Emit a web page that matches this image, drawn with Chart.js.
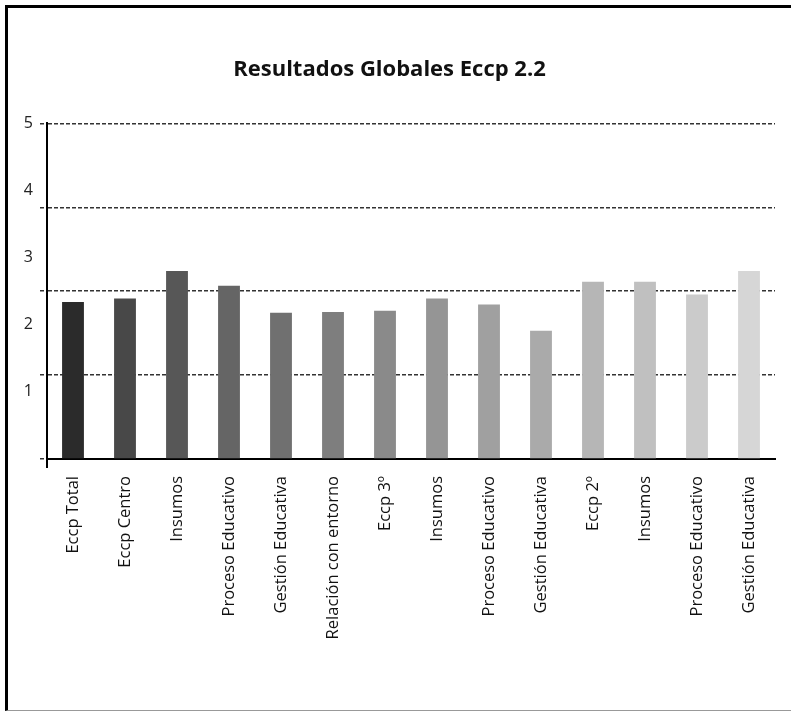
<!DOCTYPE html>
<html lang="es">
<head>
<meta charset="utf-8">
<title>Resultados Globales Eccp 2.2</title>
<script src="https://cdn.jsdelivr.net/npm/chart.js@4.4.1/dist/chart.umd.min.js"></script>
<style>
  html, body { margin: 0; padding: 0; background: #fff; }
  #lienzo { position: relative; width: 791px; height: 712px; overflow: hidden; }
  /* marco del informe: arriba e izquierda gruesos, abajo fino */
  #marco {
    position: absolute; left: 5px; top: 5px; width: 900px; height: 702px;
    border-top: 3px solid #000; border-left: 3px solid #000; border-bottom: 1px solid #999;
  }
  #grafico { position: absolute; left: 0; top: 0; }
</style>
</head>
<body>
<div id="lienzo">
  <div id="marco"></div>
  <canvas id="grafico" width="791" height="712"></canvas>
</div>
<script>
// categorías del eje X
const categorias = [
  'Eccp Total', 'Eccp Centro', 'Insumos', 'Proceso Educativo', 'Gestión Educativa',
  'Relación con entorno', 'Eccp 3º', 'Insumos', 'Proceso Educativo', 'Gestión Educativa',
  'Eccp 2º', 'Insumos', 'Proceso Educativo', 'Gestión Educativa'
];

// puntaje de cada categoría (escala 0-5)
const puntajes = [2.34, 2.39, 2.80, 2.58, 2.18, 2.19, 2.21, 2.39, 2.30, 1.91, 2.64, 2.64, 2.45, 2.80];

// números que se muestran en el eje Y
const marcasEje = [1, 2, 3, 4, 5];

// líneas punteadas horizontales
const lineasGuia = [0, 1.25, 2.5, 3.75, 5];

// tonos de gris, de oscuro a claro
const grises = [
  '#2b2b2b', '#484848', '#575757', '#656565', '#707070', '#7e7e7e', '#8a8a8a',
  '#959595', '#a0a0a0', '#aaaaaa', '#b6b6b6', '#c0c0c0', '#cbcbcb', '#d6d6d6'
];

const fuente = "'Open Sans', 'DejaVu Sans', sans-serif";

new Chart(document.getElementById('grafico'), {
  type: 'bar',
  data: {
    labels: categorias,
    datasets: [{
      data: puntajes,
      backgroundColor: grises,
      borderWidth: 0,
      barPercentage: 0.42,
      categoryPercentage: 1.0,
      xAxisID: 'x',
      yAxisID: 'y'
    }]
  },
  options: {
    responsive: false,
    animation: false,
    layout: { padding: { top: 57, left: 4, right: 16, bottom: 63 } },
    plugins: {
      legend: { display: false },
      tooltip: { enabled: false },
      title: {
        display: true,
        text: 'Resultados Globales Eccp 2.2',
        color: '#111',
        font: { family: fuente, size: 22, weight: 'bold' },
        padding: { top: 0, bottom: 40 }
      }
    },
    scales: {
      x: {
        afterFit: eje => { eje.height = 190; },
        grid: {
          display: true,
          drawOnChartArea: false,
          offset: true,
          // solo la primera marca: prolonga el eje Y bajo la base
          color: ctx => ctx.index === 0 ? '#000' : 'rgba(0,0,0,0)',
          lineWidth: 2,
          tickLength: 9
        },
        border: { display: true, color: '#000', width: 2 },
        ticks: {
          autoSkip: false,
          minRotation: 90,
          maxRotation: 90,
          padding: 8,
          color: '#111',
          font: { family: fuente, size: 16.5 }
        }
      },
      // eje con las etiquetas numéricas, sin líneas
      yMarcas: {
        type: 'linear',
        position: 'left',
        weight: 1,
        min: 0,
        max: 5,
        afterBuildTicks: eje => { eje.ticks = marcasEje.map(v => ({ value: v })); },
        afterFit: eje => { eje.width = 36; },
        grid: { display: false, drawTicks: false },
        border: { display: false },
        ticks: {
          padding: 7,
          color: '#222',
          font: { family: fuente, size: 16 }
        }
      },
      // eje de las barras con las líneas punteadas
      y: {
        type: 'linear',
        position: 'left',
        weight: 0,
        min: 0,
        max: 5,
        afterBuildTicks: eje => { eje.ticks = lineasGuia.map(v => ({ value: v })); },
        afterFit: eje => { eje.width = 7; },
        grid: {
          color: '#333',
          lineWidth: 1.5,
          tickLength: 7,
          tickColor: '#333',
          tickBorderDash: [4, 2]
        },
        border: { display: true, color: '#000', width: 2, dash: [4, 2] },
        ticks: { display: false }
      }
    }
  }
});
</script>
</body>
</html>
